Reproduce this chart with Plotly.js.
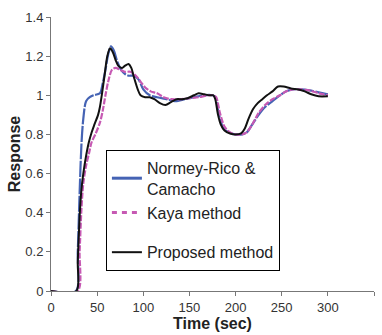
<!DOCTYPE html>
<html>
<head>
<meta charset="utf-8">
<script src="https://cdn.plot.ly/plotly-3.0.1.min.js"></script>
<style>html,body{margin:0;padding:0;background:#fff;}#chart{width:382px;height:335px;}</style>
</head>
<body>
<div id="chart"></div>
<script>
// Normey-Rico & Camacho
const tNormey = [0, 27, 29, 31, 33, 35, 38, 42, 46, 53, 56, 59, 62, 65, 68, 72, 76, 80, 84, 90, 95, 100, 107, 115, 125, 135, 145, 155, 165, 175, 178, 182, 187, 193, 200, 207, 212, 218, 225, 232, 240, 248, 255, 262, 270, 280, 290, 300];
const yNormey = [0, 0, 0.2, 0.5, 0.75, 0.88, 0.97, 0.99, 1.0, 1.01, 1.06, 1.13, 1.21, 1.25, 1.23, 1.17, 1.13, 1.11, 1.10, 1.10, 1.08, 1.03, 1.0, 0.99, 0.98, 0.97, 0.98, 0.99, 1.0, 1.0, 0.99, 0.9, 0.83, 0.81, 0.80, 0.80, 0.81, 0.85, 0.90, 0.94, 0.97, 1.0, 1.02, 1.03, 1.03, 1.025, 1.015, 1.005];
// Kaya method
const tKaya = [0, 29, 31, 33, 35, 38, 41, 44, 48, 53, 56, 59, 62, 66, 70, 75, 80, 86, 92, 97, 102, 108, 115, 122, 130, 140, 150, 160, 170, 176, 179, 183, 188, 194, 200, 207, 212, 218, 225, 232, 240, 248, 255, 262, 270, 280, 290, 300];
const yKaya = [0, 0, 0.2, 0.42, 0.55, 0.64, 0.7, 0.76, 0.8, 0.86, 0.92, 1.0, 1.07, 1.13, 1.14, 1.13, 1.12, 1.12, 1.10, 1.07, 1.04, 1.02, 1.01, 0.99, 0.98, 0.98, 0.985, 0.99, 1.0, 1.0, 0.99, 0.91, 0.84, 0.81, 0.80, 0.80, 0.81, 0.85, 0.91, 0.95, 0.98, 1.0, 1.02, 1.03, 1.03, 1.025, 1.01, 1.0];
// Proposed method
const tProposed = [0, 27.5, 29, 31, 33, 35, 38, 41, 44, 47, 51, 53, 55, 58, 61, 64, 67, 70, 73, 77, 80, 84, 87, 90, 94, 97, 102, 107, 112, 118, 124, 130, 136, 142, 148, 155, 160, 166, 172, 176, 178, 181, 184, 188, 194, 200, 206, 210, 214, 219, 224, 229, 234, 240, 246, 252, 260, 268, 275, 282, 290, 300];
const yProposed = [0, 0, 0.15, 0.38, 0.52, 0.6, 0.69, 0.76, 0.81, 0.85, 0.9, 0.94, 1.0, 1.1, 1.2, 1.24, 1.22, 1.18, 1.15, 1.14, 1.15, 1.16, 1.14, 1.09, 1.03, 1.0, 0.99, 0.99, 0.98, 0.96, 0.95, 0.965, 0.98, 0.98, 0.985, 1.0, 1.01, 1.005, 1.0, 1.0, 0.98, 0.9, 0.85, 0.82, 0.805, 0.80, 0.805, 0.83, 0.88, 0.93, 0.96, 0.98, 1.0, 1.02, 1.045, 1.045, 1.035, 1.03, 1.02, 1.005, 0.995, 0.995];

const names = ['Normey-Rico &<br>Camacho', 'Kaya method', 'Proposed method'];
const colors = ['#4563B4', '#C659B3', '#111111'];
const font = 'Liberation Sans, Arial, sans-serif';

const traces = [
  {x: tNormey, y: yNormey, name: names[0], mode: 'lines', showlegend: false,
   line: {color: colors[0], width: 2.2, dash: '16px,1.5px', shape: 'spline', smoothing: 0.8}},
  {x: tKaya, y: yKaya, name: names[1], mode: 'lines', showlegend: false,
   line: {color: colors[1], width: 2.2, dash: '6px,1.5px', shape: 'spline', smoothing: 0.8}},
  {x: tProposed, y: yProposed, name: names[2], mode: 'lines', showlegend: false,
   line: {color: colors[2], width: 2, shape: 'spline', smoothing: 0.8}},
  // legend samples
  {x: [null], y: [null], name: names[0], mode: 'lines', legendgroup: 'a',
   line: {color: colors[0], width: 3}},
  {x: [null], y: [null], name: names[1], mode: 'lines', legendgroup: 'a',
   line: {color: colors[1], width: 3, dash: '5px,5px'}},
  {x: [null], y: [null], name: names[2], mode: 'lines', legendgroup: 'b',
   line: {color: colors[2], width: 2}}
];

const layout = {
  width: 382, height: 335,
  margin: {l: 51, r: 8, t: 17, b: 44},
  paper_bgcolor: '#fff', plot_bgcolor: '#fff',
  showlegend: true,
  legend: {x: 0.17, y: 0.515, xanchor: 'left', yanchor: 'top',
    bordercolor: '#000', borderwidth: 1, bgcolor: '#fff',
    font: {family: font, size: 16, color: '#222'},
    traceorder: 'grouped', tracegroupgap: 16, itemwidth: 30},
  xaxis: {range: [0, 350], dtick: 50, tick0: 0, showgrid: false, zeroline: false,
    showline: true, linecolor: '#777', linewidth: 1, ticks: 'outside', ticklen: 4, tickcolor: '#777',
    tickfont: {family: font, size: 13, color: '#333'},
    title: {text: '<b>Time (sec)</b>', font: {family: font, size: 16, color: '#222'}, standoff: 4}},
  yaxis: {range: [0, 1.4], dtick: 0.2, tick0: 0, showgrid: false, zeroline: false,
    showline: true, linecolor: '#777', linewidth: 1, ticks: 'outside', ticklen: 4, tickcolor: '#777',
    tickfont: {family: font, size: 13, color: '#333'},
    title: {text: '<b>Response</b>', font: {family: font, size: 16, color: '#222'}, standoff: 0}}
};

Plotly.newPlot('chart', traces, layout, {displayModeBar: false, staticPlot: true});
</script>
</body>
</html>
